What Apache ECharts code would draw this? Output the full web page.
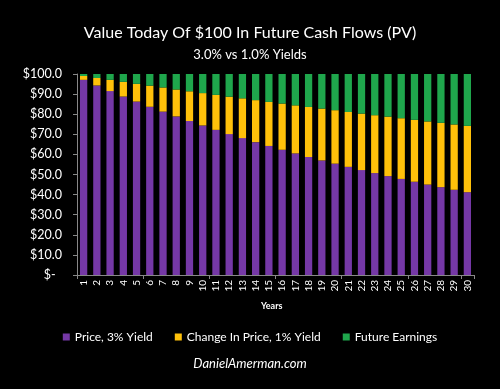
<!DOCTYPE html>
<html><head><meta charset="utf-8">
<script src="https://cdn.jsdelivr.net/npm/echarts@6/dist/echarts.min.js"></script>
<style>html,body{margin:0;padding:0;background:#000;}#c{width:500px;height:389px;}</style>
</head><body><div id="c"></div>
<script>
const years = ['1','2','3','4','5','6','7','8','9','10','11','12','13','14','15','16','17','18','19','20','21','22','23','24','25','26','27','28','29','30'];
const price3 = [97.1,94.3,91.5,88.8,86.3,83.7,81.3,78.9,76.6,74.4,72.2,70.1,68.1,66.1,64.2,62.3,60.5,58.7,57.0,55.4,53.8,52.2,50.7,49.2,47.8,46.4,45.0,43.7,42.4,41.2];
const change1 = [1.9,3.7,5.6,7.3,8.8,10.5,12.0,13.4,14.8,16.1,17.4,18.6,19.8,20.9,21.9,23.0,23.9,24.9,25.8,26.6,27.3,28.1,28.8,29.6,30.2,30.8,31.4,32.0,32.5,33.0];
const future = [1.0,2.0,2.9,3.9,4.9,5.8,6.7,7.7,8.6,9.5,10.4,11.3,12.1,13.0,13.9,14.7,15.6,16.4,17.2,18.0,18.9,19.7,20.5,21.2,22.0,22.8,23.6,24.3,25.1,25.8];
const yTicks = [0,10,20,30,40,50,60,70,80,90,100];

const font = 'Lato, "Open Sans", sans-serif';
const chart = echarts.init(document.getElementById('c'));
chart.setOption({
  backgroundColor: '#000',
  animation: false,
  title: [
    {text: 'Value Today Of $100 In Future Cash Flows (PV)', left: 'center', top: 20,
     textStyle: {color: '#fff', fontSize: 16, fontWeight: 'normal', fontFamily: font}},
    {text: '3.0% vs 1.0% Yields', left: 'center', top: 43,
     textStyle: {color: '#fff', fontSize: 13, fontWeight: 'normal', fontFamily: font}},
    {text: 'Years', left: 256, top: 297,
     textStyle: {color: '#fff', fontSize: 9, fontWeight: 'bold', fontFamily: font}},
    {text: 'DanielAmerman.com', left: 'center', top: 352,
     textStyle: {color: '#fff', fontSize: 13, fontStyle: 'italic', fontWeight: 'normal', fontFamily: font}}
  ],
  legend: {
    top: 326, left: 'center', itemGap: 22, itemWidth: 7, itemHeight: 7, icon: 'rect',
    textStyle: {color: '#fff', fontSize: 12, fontFamily: font},
    data: ['Price, 3% Yield', 'Change In Price, 1% Yield', 'Future Earnings']
  },
  grid: {left: 77, right: 26, top: 74, bottom: 114, containLabel: false},
  xAxis: {
    type: 'category', data: years,
    axisLine: {lineStyle: {color: '#888'}},
    axisTick: {show: true, interval: 4, length: 4, lineStyle: {color: '#888'}},
    axisLabel: {color: '#fff', fontSize: 10, rotate: 90, interval: 0, margin: 5, fontFamily: font}
  },
  yAxis: {
    type: 'value', min: 0, max: 100, interval: 10,
    splitLine: {show: false},
    axisLine: {show: true, lineStyle: {color: '#888'}},
    axisTick: {show: true, length: 4, lineStyle: {color: '#888'}},
    axisLabel: {color: '#fff', fontSize: 12.5, margin: 15, fontFamily: font,
      formatter: v => v === 0 ? '$-  ' : '$' + v.toFixed(1)}
  },
  series: [
    {name: 'Price, 3% Yield', type: 'bar', stack: 's', data: price3, barCategoryGap: '45%',
     itemStyle: {color: '#7538a6'}},
    {name: 'Change In Price, 1% Yield', type: 'bar', stack: 's', data: change1,
     itemStyle: {color: '#ffc10a'}},
    {name: 'Future Earnings', type: 'bar', stack: 's', data: future,
     itemStyle: {color: '#1fa64c'}}
  ]
});
</script></body></html>
